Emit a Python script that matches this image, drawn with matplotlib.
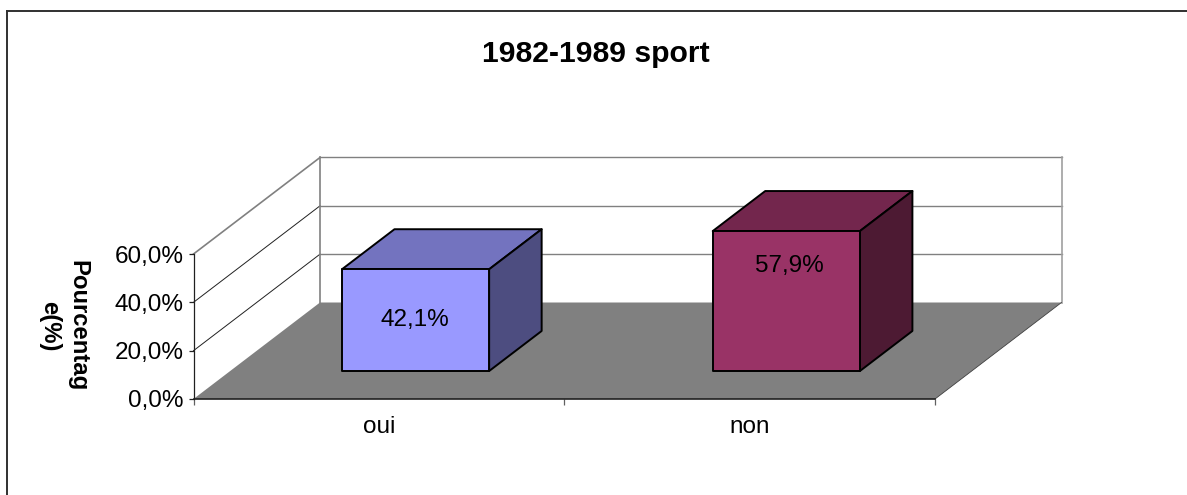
import matplotlib
matplotlib.use('Agg')
import matplotlib.pyplot as plt
from matplotlib.lines import Line2D
from matplotlib.patches import Polygon

title = '1982-1989 sport'
ylabel = 'Pourcentag\ne(%)'
categories = ['oui', 'non']
values = [42.1, 57.9]
value_labels = ['42,1%', '57,9%']
yticks = [0, 20, 40, 60]
ytick_labels = ['0,0%', '20,0%', '40,0%', '60,0%']

W, H = 1187, 495
# front plane of the chart, in pixels
left, right, bottom, top = 193.5, 935, 399, 254

# depth of the 3d box, in data units
depth_x = 126.5 / ((right - left) / 2)
depth_y = 96.5 / ((bottom - top) / 60)
bar_width = 0.397
bar_front = 0.29
bar_back = 0.705

front_colors = ['#9999ff', '#993366']
top_colors = ['#7373bf', '#73264d']
side_colors = ['#4d4d80', '#4d1a33']
# where the value label sits relative to the bar top and centre
label_drop = [21.0, 14.6]
label_shift = [-0.003, 0.008]

plt.rcParams['font.family'] = ['Liberation Sans', 'DejaVu Sans']

fig = plt.figure(figsize=(W / 100, H / 100), dpi=100)
ax = fig.add_axes([left / W, 1 - bottom / H, (right - left) / W, (bottom - top) / H])
ax.patch.set_visible(False)
ax.set_xlim(0, len(categories))
ax.set_ylim(0, yticks[-1])


def proj(x, y, d):
    return (x + d * depth_x, y + d * depth_y)


def face(points, color, z, edge='none', lw=0):
    ax.add_patch(Polygon(points, closed=True, facecolor=color, edgecolor=edge,
                         linewidth=lw, zorder=z, clip_on=False, joinstyle='round'))


def line(p, q, color, lw, z=1):
    ax.plot([p[0], q[0]], [p[1], q[1]], color=color, linewidth=lw, zorder=z,
            clip_on=False, solid_capstyle='projecting')


n = len(categories)
ymax = yticks[-1]

# floor
face([proj(0, 0, 0), proj(n, 0, 0), proj(n, 0, 1), proj(0, 0, 1)], '#808080', 1)
line(proj(n, 0, 0), proj(n, 0, 1), '#404040', 0.6, 1.5)

# walls
for t in yticks[1:]:
    side_color = '#808080' if t == ymax else '#202020'
    side_lw = 1.2 if t == ymax else 0.7
    line(proj(0, t, 0), proj(0, t, 1), side_color, side_lw)
    line(proj(0, t, 1), proj(n, t, 1), '#808080', 1.0)
line(proj(0, 0, 1), proj(0, ymax, 1), '#808080', 1.2)
line(proj(n, 0, 1), proj(n, ymax, 1), '#a0a0a0', 1.2)

# bars
for i, v in enumerate(values):
    x0 = i + 0.5 - bar_width / 2
    x1 = i + 0.5 + bar_width / 2
    a, b = bar_front, bar_back
    face([proj(x0, v, a), proj(x1, v, a), proj(x1, v, b), proj(x0, v, b)],
         top_colors[i], 3, 'black', 1.4)
    face([proj(x1, 0, a), proj(x1, 0, b), proj(x1, v, b), proj(x1, v, a)],
         side_colors[i], 3, 'black', 1.4)
    face([proj(x0, 0, a), proj(x1, 0, a), proj(x1, v, a), proj(x0, v, a)],
         front_colors[i], 3.1, 'black', 1.4)
    lx, ly = proj(i + 0.5 + label_shift[i], v - label_drop[i], a)
    ax.text(lx, ly, value_labels[i], fontsize=17.5, ha='center', va='center',
            color='black', zorder=4)

# axes
for s in ['top', 'right']:
    ax.spines[s].set_visible(False)
ax.spines['left'].set_color('#202020')
ax.spines['bottom'].set_color('#202020')
ax.spines['left'].set_linewidth(0.9)
ax.spines['bottom'].set_linewidth(1.2)

ax.set_yticks(yticks)
ax.set_yticklabels(ytick_labels, fontsize=17.5)
ax.set_xticks(range(n + 1))
ax.set_xticklabels([])
ax.set_xticks([i + 0.5 for i in range(n)], minor=True)
ax.set_xticklabels(categories, minor=True, fontsize=17.5)
ax.tick_params(axis='y', length=3.5, width=0.9, pad=3.5, color='#202020')
ax.tick_params(axis='x', which='major', length=4, width=0.9, color='#606060')
ax.tick_params(axis='x', which='minor', length=0, pad=12.5)

fig.text(596 / W, 1 - 54.5 / H, title, fontsize=21.7, fontweight='bold', ha='center', va='center')
fig.text(64 / W, 1 - 326 / H, ylabel, fontsize=17.2, fontweight='bold', rotation=-90,
         ha='center', va='center', multialignment='center', linespacing=1.3)

# chart area border, only top and left fall inside the picture
fig.add_artist(Line2D([7 / W, 7 / W], [0, 1 - 11 / H], color='#303030', linewidth=1.4))
fig.add_artist(Line2D([7 / W, 1], [1 - 11 / H, 1 - 11 / H], color='#303030', linewidth=1.4))

fig.savefig('out.png', dpi=100)
